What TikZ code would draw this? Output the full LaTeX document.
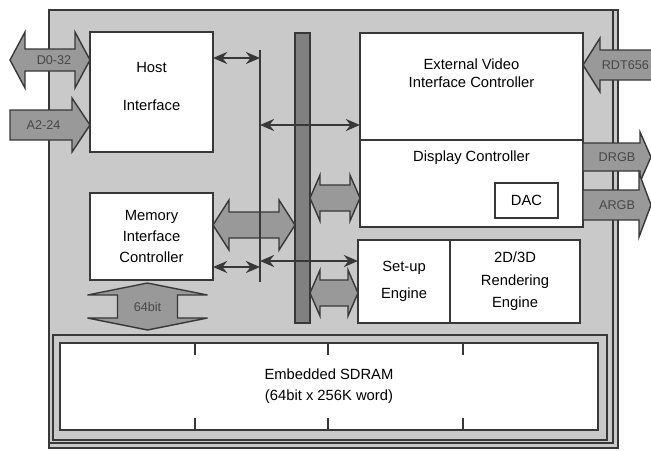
\documentclass[tikz,border=0pt]{standalone}
\usepackage{fontspec}
\setmainfont{Liberation Sans}
\usetikzlibrary{positioning,arrows.meta,calc}
\definecolor{linegray}{gray}{0.22}
\definecolor{chipgray}{gray}{0.79}
\definecolor{arrowgray}{gray}{0.60}
\definecolor{bargray}{gray}{0.50}
\newcommand{\boxfont}{\fontsize{10.5}{12.6}\selectfont}
\newcommand{\labelfont}{\fontsize{9}{10.8}\selectfont}
% block arrows: #1 first end, #2 second end, #3 half shaft, #4 half head, #5 head length
\newcommand{\dblarrow}[5]{%
  \draw[blockarrow] (#1) -- ($(#1)+(#5,#4)$) -- ($(#1)+(#5,#3)$) -- ($(#2)+(-#5,#3)$)
    -- ($(#2)+(-#5,#4)$) -- (#2) -- ($(#2)+(-#5,-#4)$) -- ($(#2)+(-#5,-#3)$)
    -- ($(#1)+(#5,-#3)$) -- ($(#1)+(#5,-#4)$) -- cycle;}
\newcommand{\vdblarrow}[5]{%
  \draw[blockarrow] (#1) -- ($(#1)+(#4,#5)$) -- ($(#1)+(#3,#5)$) -- ($(#2)+(#3,-#5)$)
    -- ($(#2)+(#4,-#5)$) -- (#2) -- ($(#2)+(-#4,-#5)$) -- ($(#2)+(-#3,-#5)$)
    -- ($(#1)+(-#3,#5)$) -- ($(#1)+(-#4,#5)$) -- cycle;}
% #1 tail, #2 tip, #5 signed head length
\newcommand{\sglarrow}[5]{%
  \draw[blockarrow] (#2) -- ($(#2)+(#5,#4)$) -- ($(#2)+(#5,#3)$) -- ($(#1)+(0,#3)$)
    -- ($(#1)+(0,-#3)$) -- ($(#2)+(#5,-#3)$) -- ($(#2)+(#5,-#4)$) -- cycle;}
\tikzset{
  chip/.style={draw=linegray, line width=2pt, fill=chipgray},
  unit/.style={draw=linegray, line width=1.9pt, fill=white, outer sep=0pt, align=center, font=\boxfont},
  boxtext/.style={align=center, font=\boxfont},
  blockarrow/.style={draw=linegray, line width=1pt, fill=arrowgray, line join=miter},
  buslabel/.style={font=\labelfont, text=black!72},
  thinline/.style={draw=linegray, line width=2pt},
  thinarrow/.style={{Stealth[length=10pt,width=8.5pt]}-{Stealth[length=10pt,width=8.5pt]}, draw=linegray, line width=2pt},
  busbar/.style={draw=linegray, line width=1pt, fill=bargray, minimum width=0.375cm, minimum height=7.25cm, outer sep=0pt},
  tick/.style={draw=linegray, line width=1pt}
}

\begin{document}
\begin{tikzpicture}[x=0.025cm, y=-0.025cm]
  \useasboundingbox (0,0) rectangle (651,450);
  \clip (0,0) rectangle (651,450);
  % chip
  \draw[chip] (49,10) rectangle (618,448);
  \draw[draw=linegray, line width=1pt] (613,10) -- (613,443) -- (49,443);

  % units
  \node[unit, minimum width=3.075cm, minimum height=3cm] (host) at (151.5,92) {};
  \node[boxtext] (hosttext) at (151.5,86.5) {Host\\[14pt]Interface};
  \node[unit, minimum width=3.075cm, minimum height=2.175cm] (mem) at (151.5,236.5) {Memory\\[2.5pt]Interface\\[2.5pt]Controller};
  \node[unit, minimum width=5.575cm, minimum height=2.675cm] (extvid) at (471.5,86.5) {};
  \node[boxtext] (extvidtext) at ($(extvid.center)+(0,-13)$) {External Video\\Interface Controller};
  \node[unit, minimum width=5.575cm, minimum height=2.175cm, below=0pt of extvid] (disp) {};
  \node[boxtext] (disptext) at ($(disp.north)+(0,18)$) {Display Controller};
  \node[unit, line width=1.2pt, minimum width=1.575cm, minimum height=0.875cm] (dac) at (526.5,200.5) {DAC};
  \node[unit, minimum width=2.3cm, minimum height=2.075cm] (setup) at (404,281.5) {Set-up\\[7pt]Engine};
  \node[unit, minimum width=3.25cm, minimum height=2.075cm, right=0pt of setup] (render) {2D/3D\\[3.5pt]Rendering\\[3.5pt]Engine};

  % SDRAM
  \node[draw=linegray, line width=1.2pt, minimum width=13.85cm, minimum height=2.625cm, outer sep=0pt] (sdframe) at (330,387.5) {};
  \node[unit, minimum width=13.45cm, minimum height=2.175cm] (sdram) at (329,386.5) {Embedded SDRAM\\[2.5pt](64bit x 256K word)};
  \foreach \tx in {195,328,463} {
    \draw[tick] (sdram.north -| \tx,0) -- ++(0,12);
    \draw[tick] (sdram.south -| \tx,0) -- ++(0,-12);
  }

  % internal bus
  \node[busbar] (bus) at (302.5,178) {};

  % block arrows
  \coordinate (ma) at (mem.east |- 0,225);
  \coordinate (mb) at (bus.west |- 0,225);
  \dblarrow{ma}{mb}{13}{25}{16}
  \coordinate (da) at (bus.east |- 0,198);
  \coordinate (db) at (disp.west |- 0,198);
  \dblarrow{da}{db}{13}{23}{10}
  \coordinate (sa) at (bus.east |- 0,293);
  \coordinate (sb) at (setup.west |- 0,293);
  \dblarrow{sa}{sb}{13}{23}{10}
  \coordinate (ta) at ($(mem.south)+(-4,3)$);
  \coordinate (tb) at ($(mem.south |- sdframe.north)+(-4,-5)$);
  \vdblarrow{ta}{tb}{30}{60}{12}
  \node[buslabel] (l64) at ($(ta)!0.5!(tb)$) {64bit};

  % external signals
  \coordinate (d1) at (10,60);
  \coordinate (d2) at (host.west |- 0,60);
  \dblarrow{d1}{d2}{11}{28}{15}
  \node[buslabel] (ld) at ($(d1)!0.55!(d2)$) {D0-32};
  \coordinate (a1) at (10,125);
  \coordinate (a2) at (host.west |- 0,125);
  \sglarrow{a1}{a2}{15}{27}{-18}
  \node[buslabel] (la) at ($(a1)!0.42!(a2)$) {A2-24};
  \coordinate (r1) at (660,65);
  \coordinate (r2) at (extvid.east |- 0,65);
  \sglarrow{r1}{r2}{15}{27}{17}
  \node[buslabel] (lr) at ($(r1)!0.45!(r2)$) {RDT656};
  \coordinate (g1) at (disp.east |- 0,157);
  \coordinate (g2) at (651,157);
  \sglarrow{g1}{g2}{14}{25}{-11}
  \node[buslabel] (lg) at ($(g1)!0.5!(g2)$) {DRGB};
  \coordinate (b1) at (disp.east |- 0,205);
  \coordinate (b2) at (651,205);
  \sglarrow{b1}{b2}{15}{32}{-12}
  \node[buslabel] (lb) at ($(b1)!0.5!(b2)$) {ARGB};

  % local bus line
  \coordinate (tltop) at (260,50);
  \coordinate (tlbot) at (260,282);
  \draw[thinline] (tltop) -- (tlbot);
  \draw[thinarrow] (host.east |- 0,58) -- (tltop |- 0,58);
  \draw[thinarrow] (tltop |- 0,125) -- (extvid.west |- 0,125);
  \draw[thinarrow] (mem.east |- 0,267) -- (tltop |- 0,267);
  \draw[thinarrow] (tltop |- 0,261) -- (setup.west |- 0,261);
\end{tikzpicture}
\end{document}
